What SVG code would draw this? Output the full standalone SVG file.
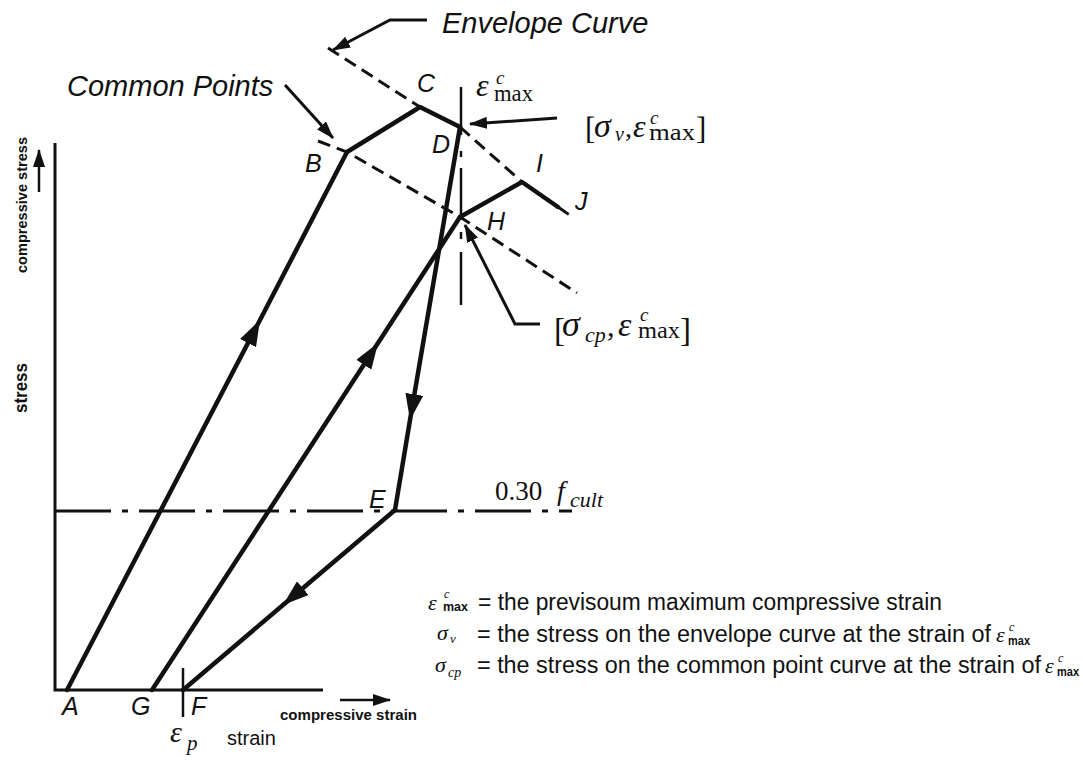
<svg xmlns="http://www.w3.org/2000/svg" width="1083" height="760" viewBox="0 0 1083 760">
<style>
.ln{fill:none;stroke:#111;stroke-width:4.5;stroke-linecap:round;stroke-linejoin:round}
.ax{fill:none;stroke:#111;stroke-width:3}
.dsh{fill:none;stroke:#111;stroke-width:3;stroke-dasharray:13 7}
.thin{fill:none;stroke:#111;stroke-width:2.5}
.ld{fill:none;stroke:#111;stroke-width:3}
.lab{font-family:"Liberation Sans",Arial,sans-serif;font-style:italic;font-size:25px;fill:#111}
.big{font-family:"Liberation Sans",Arial,sans-serif;font-style:italic;font-size:29px;fill:#111}
.sf{font-family:"Liberation Serif","Times New Roman",serif;fill:#111}
.si{font-family:"Liberation Serif","Times New Roman",serif;font-style:italic;fill:#111}
.it{font-style:italic}
.up{font-style:normal}
.lg{font-family:"Liberation Sans",Arial,sans-serif;font-size:23px;fill:#111}
.sm{font-family:"Liberation Sans",Arial,sans-serif;fill:#111}
.mx{font-family:"Liberation Sans",Arial,sans-serif;font-style:normal;font-weight:bold;font-size:12px}
</style>
<defs>
<marker id="am" markerWidth="26" markerHeight="18" refX="26" refY="9" orient="auto" markerUnits="userSpaceOnUse"><path d="M0,0 L26,9 L0,18 Z" fill="#111"/></marker>
<marker id="as" markerWidth="18" markerHeight="12" refX="17" refY="6" orient="auto" markerUnits="userSpaceOnUse"><path d="M0,0 L18,6 L0,12 Z" fill="#111"/></marker>
</defs>
<rect width="1083" height="760" fill="#fff"/>

<g id="axes">
<path class="ax" d="M55,143 V690 H323"/>
<path class="thin" d="M39,192 V150" marker-end="url(#as)"/>
<path class="thin" d="M340,700 H390" marker-end="url(#as)"/>
<path class="thin" d="M183,668 V717"/>
<text class="sm" transform="translate(27,273) rotate(-90)" font-size="14" font-weight="bold" textLength="136" lengthAdjust="spacingAndGlyphs">compressive stress</text>
<text class="sm" transform="translate(27,413) rotate(-90)" font-size="19" font-weight="bold" textLength="50" lengthAdjust="spacingAndGlyphs">stress</text>
<text class="sm" x="280" y="720" font-size="15" font-weight="bold" textLength="137" lengthAdjust="spacingAndGlyphs">compressive strain</text>
<text class="si" x="170" y="742" font-size="30">ε<tspan x="187" y="750" font-size="21">p</tspan></text>
<text class="sm" x="227" y="745" font-size="20">strain</text>
</g>

<g id="reference-lines">
<path fill="none" stroke="#111" stroke-width="3" stroke-dasharray="56 11 6 11" d="M55,511 H572"/>
<path class="dsh" d="M328,48 L420,107"/>
<path class="dsh" d="M460,127 L522,182"/>
<path class="dsh" d="M558,207 L574,218"/>
<path class="dsh" d="M318,141 L347,152 L460,217 L577,293"/>
<path class="thin" d="M461,87 V135 M461,151 V157 M461,168 V217 M461,232 V239 M461,252 V305"/>
</g>

<g id="connectors">
<path class="ln" d="M67,690 L260,320 L347,152" marker-mid="url(#am)"/>
<path class="ln" d="M347,152 L420,107 L460,127"/>
<path class="ln" d="M460,127 L410,420 L395,510" marker-mid="url(#am)"/>
<path class="ln" d="M395,510 L283,605 L183,690" marker-mid="url(#am)"/>
<path class="ln" d="M152,690 L378,343 L460,217" marker-mid="url(#am)"/>
<path class="ln" d="M460,217 L522,182 L558,207"/>
<path class="ld" d="M427,20 H390 L333,50" marker-end="url(#as)"/>
<path class="ld" d="M285,85 L333,138" marker-end="url(#as)"/>
<path class="ld" d="M557,118 L470,124" marker-end="url(#as)"/>
<path class="ld" d="M540,324 H515 L465,225" marker-end="url(#as)"/>
</g>

<g id="node-A"><text class="lab" x="62" y="715">A</text></g>
<g id="node-B"><text class="lab" x="305" y="172">B</text></g>
<g id="node-C"><text class="lab" x="417" y="92">C</text></g>
<g id="node-D"><text class="lab" x="432" y="153">D</text></g>
<g id="node-E"><text class="lab" x="369" y="508">E</text></g>
<g id="node-F"><text class="lab" x="191" y="715">F</text></g>
<g id="node-G"><text class="lab" x="131" y="715">G</text></g>
<g id="node-H"><text class="lab" x="487" y="230">H</text></g>
<g id="node-I"><text class="lab" x="536" y="172">I</text></g>
<g id="node-J"><text class="lab" x="575" y="210">J</text></g>

<g id="label-envelope"><text class="big" x="442" y="33">Envelope Curve</text></g>
<g id="label-common"><text class="big" x="67" y="96">Common Points</text></g>

<g id="label-emax">
<text class="si" x="476" y="96" font-size="32">ε<tspan x="496" y="84" font-size="19">c</tspan><tspan class="up" x="494" y="101" font-size="24" textLength="39" lengthAdjust="spacingAndGlyphs">max</tspan></text>
</g>

<g id="label-sigma-v">
<text class="sf" x="585" y="139" font-size="31">[<tspan class="it" x="594" y="137" font-size="34">σ</tspan><tspan class="it" x="615" y="141" font-size="20">v</tspan><tspan x="625" y="137" font-size="28">,</tspan><tspan class="it" x="633" y="137" font-size="32">ε</tspan><tspan class="it" x="650" y="124" font-size="19">c</tspan><tspan x="649" y="140" font-size="24" textLength="46" lengthAdjust="spacingAndGlyphs">max</tspan><tspan x="696" y="139">]</tspan></text>
</g>

<g id="label-sigma-cp">
<text class="sf" x="554" y="341" font-size="33">[<tspan class="it" x="562" y="336" font-size="36">σ</tspan><tspan class="it" x="585" y="342" font-size="22">cp</tspan><tspan x="607" y="336" font-size="30">,</tspan><tspan class="it" x="618" y="336" font-size="34">ε</tspan><tspan class="it" x="640" y="321" font-size="19">c</tspan><tspan x="638" y="338" font-size="24" textLength="42" lengthAdjust="spacingAndGlyphs">max</tspan><tspan x="680" y="341">]</tspan></text>
</g>

<g id="label-fcult">
<text class="sf" x="495" y="500" font-size="27">0.30<tspan class="it" x="557" y="500" font-size="28">f</tspan><tspan class="it" x="570" y="507" font-size="22">cult</tspan></text>
</g>

<g id="legend">
<text class="si" x="428" y="610" font-size="22">ε<tspan x="444" y="598" font-size="12">c</tspan><tspan class="mx" x="443" y="611" textLength="25" lengthAdjust="spacingAndGlyphs">max</tspan></text>
<text class="lg" x="478" y="610" textLength="464" lengthAdjust="spacingAndGlyphs">= the previsoum maximum compressive strain</text>

<text class="si" x="437" y="640" font-size="22">σ<tspan x="450" y="643" font-size="13">v</tspan></text>
<text class="lg" x="477" y="642" textLength="514" lengthAdjust="spacingAndGlyphs">= the stress on the envelope curve at the strain of</text>
<text class="si" x="996" y="642" font-size="22">ε<tspan x="1009" y="631" font-size="12">c</tspan><tspan class="mx" x="1008" y="645" textLength="22" lengthAdjust="spacingAndGlyphs">max</tspan></text>

<text class="si" x="435" y="672" font-size="22">σ<tspan x="448" y="677" font-size="14">cp</tspan></text>
<text class="lg" x="477" y="673" textLength="564" lengthAdjust="spacingAndGlyphs">= the stress on the common point curve at the strain of</text>
<text class="si" x="1045" y="673" font-size="22">ε<tspan x="1058" y="662" font-size="12">c</tspan><tspan class="mx" x="1057" y="676" textLength="22" lengthAdjust="spacingAndGlyphs">max</tspan></text>
</g>
</svg>
